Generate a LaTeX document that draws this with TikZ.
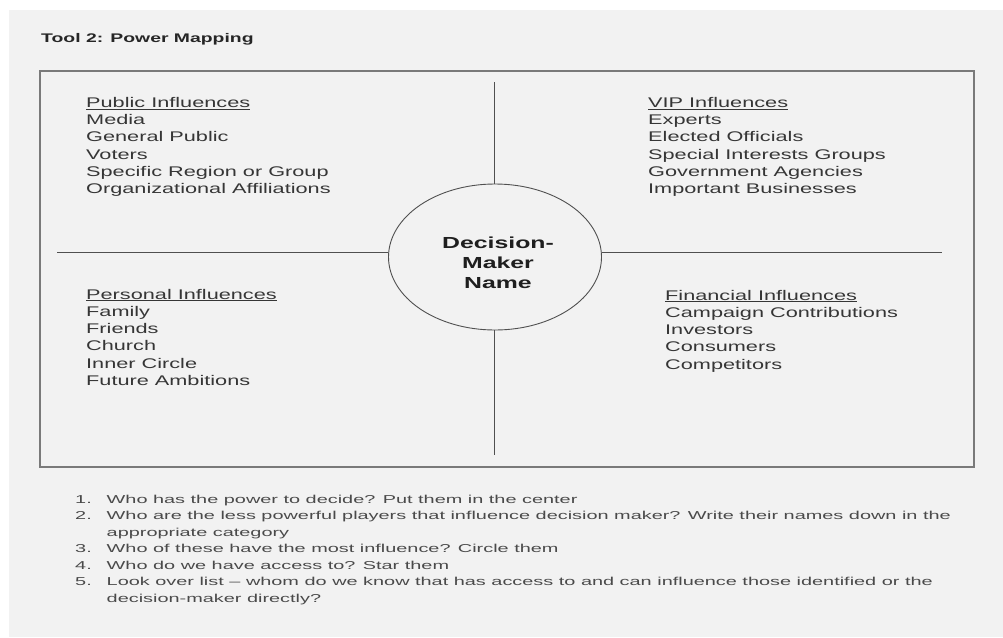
\documentclass[tikz,border=0pt]{standalone}
\usepackage{fontspec}
\usepackage{xcolor}
\setmainfont{Liberation Sans}
\newfontfamily\widesans[FakeStretch=1.55]{Liberation Sans}
\newfontfamily\notesans[FakeStretch=1.73]{Liberation Sans}
\usetikzlibrary{positioning, shapes.geometric}
\definecolor{paper}{HTML}{F2F2F2}
\definecolor{ink}{HTML}{363636}
\definecolor{rulegray}{HTML}{505050}
\definecolor{framegray}{HTML}{7A7A7A}

\begin{document}
\begin{tikzpicture}[x=1pt, y=-1pt,
  title/.style={anchor=base west, inner sep=0pt, text=black!85, font=\widesans\bfseries\fontsize{12.5}{15}\selectfont},
  heading/.style={anchor=base west, inner sep=0pt, text=ink, font=\widesans\fontsize{14}{17}\selectfont},
  entry/.style={heading},
  hub/.style={ellipse, draw=rulegray, line width=0.9pt, fill=paper, minimum width=213pt, minimum height=146pt, inner sep=0pt},
  hubtext/.style={anchor=north, inner sep=0pt, align=center, text=black!88, font=\widesans\bfseries\fontsize{16}{20.3}\selectfont},
  divider/.style={draw=rulegray, line width=1pt},
  frame/.style={draw=framegray, line width=1.6pt},
  note/.style={anchor=base west, inner sep=0pt, text=ink!90, font=\notesans\fontsize{11.5}{14}\selectfont},
]
% page
\fill[white] (0,0) rectangle (1003,637);
\fill[paper] (9,10) rectangle (1003,637);

\node[title] (tooltitle) at (41,42.5) {Tool 2: Power Mapping};

% map
\draw[frame] (40,71) rectangle (974,467);
\node[hub] (decider) at (495,257) {};
\node[hubtext] (decidername) at (498,236.5) {Decision-\\Maker\\Name};

\coordinate (west end)  at (57,252);
\coordinate (east end)  at (942,252);
\coordinate (north end) at (494,82);
\coordinate (south end) at (494,455);
\draw[divider] (west end) -- (west end -| decider.west);
\draw[divider] (decider.east |- east end) -- (east end);
\draw[divider] (north end) -- (north end |- decider.north);
\draw[divider] (south end |- decider.south) -- (south end);

% quadrants
\node[heading] (public) at (86,107.3) {\underline{Public Influences}};
\foreach \t [count=\i] in {Media, General Public, Voters, Specific Region or Group, Organizational Affiliations}
  \node[entry] (public-\i) at (86,107.3+17.3*\i) {\t};

\node[heading] (vip) at (648,107.3) {\underline{VIP Influences}};
\foreach \t [count=\i] in {Experts, Elected Officials, Special Interests Groups, Government Agencies, Important Businesses}
  \node[entry] (vip-\i) at (648,107.3+17.3*\i) {\t};

\node[heading] (personal) at (86,299) {\underline{Personal Influences}};
\foreach \t [count=\i] in {Family, Friends, Church, Inner Circle, Future Ambitions}
  \node[entry] (personal-\i) at (86,299+17.3*\i) {\t};

\node[heading] (financial) at (665,300) {\underline{Financial Influences}};
\foreach \t [count=\i] in {Campaign Contributions, Investors, Consumers, Competitors}
  \node[entry] (financial-\i) at (665,300+17.3*\i) {\t};

% steps below the map
\foreach \n/\y/\t in {1/503/{Who has the power to decide? Put them in the center},
                      2/519.5/{Who are the less powerful players that influence decision maker? Write their names down in the},
                      3/552.5/{Who of these have the most influence? Circle them},
                      4/569/{Who do we have access to? Star them},
                      5/585.5/{Look over list – whom do we know that has access to and can influence those identified or the}} {
  \node[note] (q\n-num) at (75,\y) {\n.};
  \node[note] (q\n) at (106.5,\y) {\t};
}
\node[note] (q2-more) at (106.5,536) {appropriate category};
\node[note] (q5-more) at (106.5,602) {decision-maker directly?};
\end{tikzpicture}
\end{document}
